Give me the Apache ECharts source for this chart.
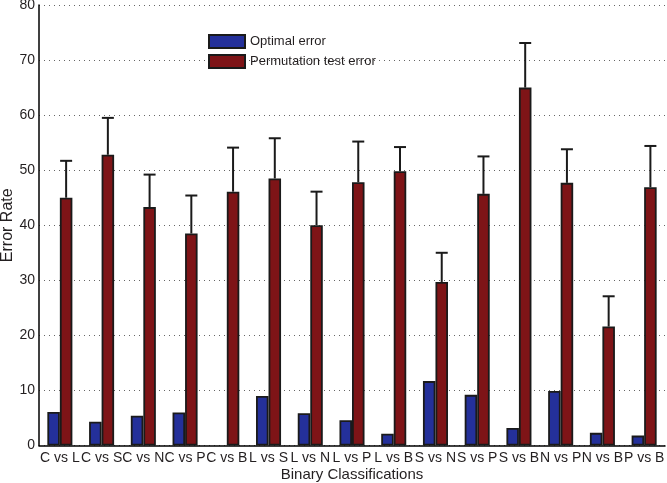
<!DOCTYPE html>
<html>
<head>
<meta charset="utf-8">
<script src="https://cdn.jsdelivr.net/npm/echarts@6/dist/echarts.min.js"></script>
<style>html,body{margin:0;padding:0;background:#fff}#c{width:667px;height:483px}</style>
</head>
<body>
<div id="c"></div>
<script>
var categories = ["C vs L","C vs S","C vs N","C vs P","C vs B","L vs S","L vs N","L vs P","L vs B","S vs N","S vs P","S vs B","N vs P","N vs B","P vs B"];
var optimalError = [6.1, 4.3, 5.4, 6.0, 0, 9.0, 5.85, 4.6, 2.15, 11.7, 9.2, 3.2, 9.9, 2.3, 1.8];
var permutationError = [45.0, 52.8, 43.3, 38.5, 46.1, 48.5, 40.0, 47.8, 49.8, 29.7, 45.7, 65.0, 47.7, 21.6, 46.9];
var permutationStd = [6.7, 6.7, 5.9, 6.9, 8.0, 7.3, 6.1, 7.4, 4.4, 5.3, 6.8, 8.1, 6.1, 5.5, 7.5];
var yTicks = [0, 10, 20, 30, 40, 50, 60, 70, 80];

var font = '"Liberation Sans", Arial, sans-serif';
var textColor = '#231f20';
var chart = echarts.init(document.getElementById('c'), null, {renderer: 'canvas'});

var errData = permutationError.map(function (v, i) { return [i, v, v + permutationStd[i]]; });
var optData = optimalError.map(function (v) {
  return v === 0 ? {value: v, itemStyle: {borderWidth: 0}} : v;
});

chart.setOption({
  animation: false,
  backgroundColor: '#fff',
  grid: {left: 39, right: 2, top: 5, bottom: 37.5, containLabel: false, outerBoundsMode: 'none'},
  legend: {
    data: ['Optimal error', 'Permutation test error'],
    orient: 'vertical',
    left: 208, top: 34, padding: 0,
    icon: 'rect',
    itemWidth: 36, itemHeight: 13, itemGap: 5,
    textStyle: {fontFamily: font, fontSize: 13, color: textColor}
  },
  xAxis: {
    type: 'category',
    data: categories,
    name: 'Binary Classifications',
    nameLocation: 'middle',
    nameGap: 22,
    nameMoveOverlap: false,
    nameTextStyle: {fontFamily: font, fontSize: 15, color: textColor},
    axisLine: {lineStyle: {color: '#000', width: 1.5}},
    axisTick: {show: false},
    axisLabel: {fontFamily: font, fontSize: 14, color: textColor, margin: 6, interval: 0},
    splitLine: {show: false}
  },
  yAxis: {
    type: 'value',
    min: 0, max: 80, interval: 10,
    name: 'Error Rate',
    nameLocation: 'middle',
    nameGap: 23,
    nameMoveOverlap: false,
    nameTextStyle: {fontFamily: font, fontSize: 16, color: textColor},
    axisLine: {show: true, lineStyle: {color: '#000', width: 1.5}},
    axisTick: {show: false},
    axisLabel: {fontFamily: font, fontSize: 14, color: textColor, margin: 4,
      formatter: function (v) { return yTicks.indexOf(v) >= 0 ? String(v) : ''; }},
    splitLine: {show: true, lineStyle: {color: '#666', width: 1, type: [1, 4]}}
  },
  series: [
    {
      name: 'Optimal error', type: 'bar', data: optData,
      barGap: '0%', barCategoryGap: '40%',
      itemStyle: {color: '#24309a', borderColor: '#1a1a1a', borderWidth: 1.8}
    },
    {
      name: 'Permutation test error', type: 'bar', data: permutationError,
      barGap: '0%', barCategoryGap: '40%',
      itemStyle: {color: '#7e1417', borderColor: '#1a1a1a', borderWidth: 1.8}
    },
    {
      type: 'custom', name: 'err', z: 3,
      data: errData,
      renderItem: function (params, api) {
        var i = api.value(0);
        var band = api.size([1, 0])[0];
        var off = band * 0.15;
        var p1 = api.coord([i, api.value(1)]);
        var p2 = api.coord([i, api.value(2)]);
        var x = p1[0] + off;
        var half = 6;
        var st = {stroke: '#1a1a1a', lineWidth: 2, fill: null};
        return {
          type: 'group',
          children: [
            {type: 'line', shape: {x1: x, y1: p1[1], x2: x, y2: p2[1]}, style: st},
            {type: 'line', shape: {x1: x - half, y1: p2[1], x2: x + half, y2: p2[1]}, style: st}
          ]
        };
      }
    }
  ]
});
</script>
</body>
</html>
